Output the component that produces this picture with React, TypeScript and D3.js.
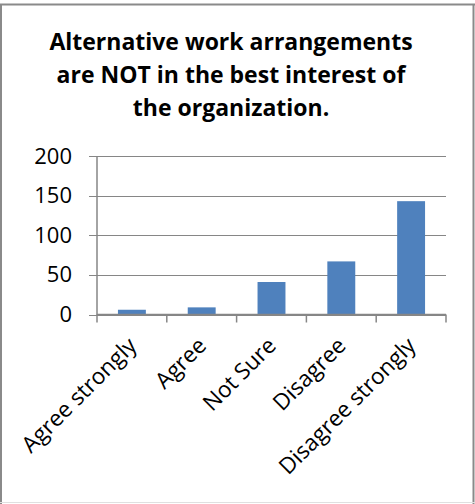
import React from "react";
import * as d3 from "d3";

const categories = ["Agree strongly", "Agree", "Not Sure", "Disagree", "Disagree strongly"];
const values = [6, 9, 41, 67, 143];
const yTicks = [0, 50, 100, 150, 200];
const titleLines = [
  "Alternative work arrangements",
  "are NOT in the best interest of",
  "the organization.",
];

const W = 475;
const H = 504;
const left = 97;
const right = 446;
const top = 156;
const bottom = 314.5;

export default function App() {
  const x = d3.scaleBand<string>().domain(categories).range([left, right]).paddingInner(0.6).paddingOuter(0.3);
  const y = d3.scaleLinear().domain([0, 200]).range([bottom, top]);
  const step = (right - left) / categories.length;
  const tickXs = d3.range(categories.length + 1).map((i) => left + i * step);
  const font = "'Open Sans', sans-serif";
  const grid = "#868686";

  return (
    <svg width={W} height={H} style={{ position: "absolute", left: 0, top: 0, background: "#fff" }}>
      <rect x={0} y={0} width={W} height={H} fill="#fff" />
      {/* border */}
      <line x1={0} x2={475} y1={4.5} y2={4.5} stroke="#8a8a8a" strokeWidth={2} />
      <line x1={1} x2={1} y1={4} y2={504} stroke="#8a8a8a" strokeWidth={2} />
      <line x1={473.5} x2={473.5} y1={4} y2={504} stroke="#8a8a8a" strokeWidth={2} />
      <line x1={0} x2={475} y1={502.5} y2={502.5} stroke="#e0e0e0" strokeWidth={1} />

      {/* title */}
      {titleLines.map((t, i) => (
        <text key={i} x={231} y={49.5 + i * 33} textAnchor="middle" fontFamily={font} fontWeight="bold" fontSize={23} fill="#000">
          {t}
        </text>
      ))}

      {/* gridlines */}
      {yTicks.map((v) => (
        <g key={v}>
          <line x1={left - 8} x2={right} y1={Math.round(y(v)) + 0.5} y2={Math.round(y(v)) + 0.5} stroke={grid} strokeWidth={1.2} />
          <text x={72} y={y(v) + 7.5} textAnchor="end" fontFamily={font} fontSize={22} fill="#000">
            {v}
          </text>
        </g>
      ))}

      {/* bars */}
      {categories.map((c, i) => (
        <rect key={c} x={x(c)} y={y(values[i])} width={x.bandwidth()} height={y(0) - y(values[i])} fill="#4F81BD" />
      ))}

      {/* axes */}
      <line x1={left} x2={left} y1={top} y2={bottom + 1} stroke={grid} strokeWidth={1.5} />
      <line x1={left} x2={right} y1={bottom} y2={bottom} stroke={grid} strokeWidth={1.5} />
      {tickXs.map((tx, i) => (
        <line key={i} x1={tx} x2={tx} y1={bottom} y2={bottom + 8} stroke={grid} strokeWidth={1.5} />
      ))}

      {/* x labels */}
      {categories.map((c) => {
        const cx = (x(c) as number) + x.bandwidth() / 2;
        const ax = cx + 6;
        const ay = 347;
        return (
          <text key={c} x={ax} y={ay} textAnchor="end" transform={`rotate(-45 ${ax} ${ay})`} fontFamily={font} fontSize={22.5} fill="#000">
            {c}
          </text>
        );
      })}
    </svg>
  );
}
